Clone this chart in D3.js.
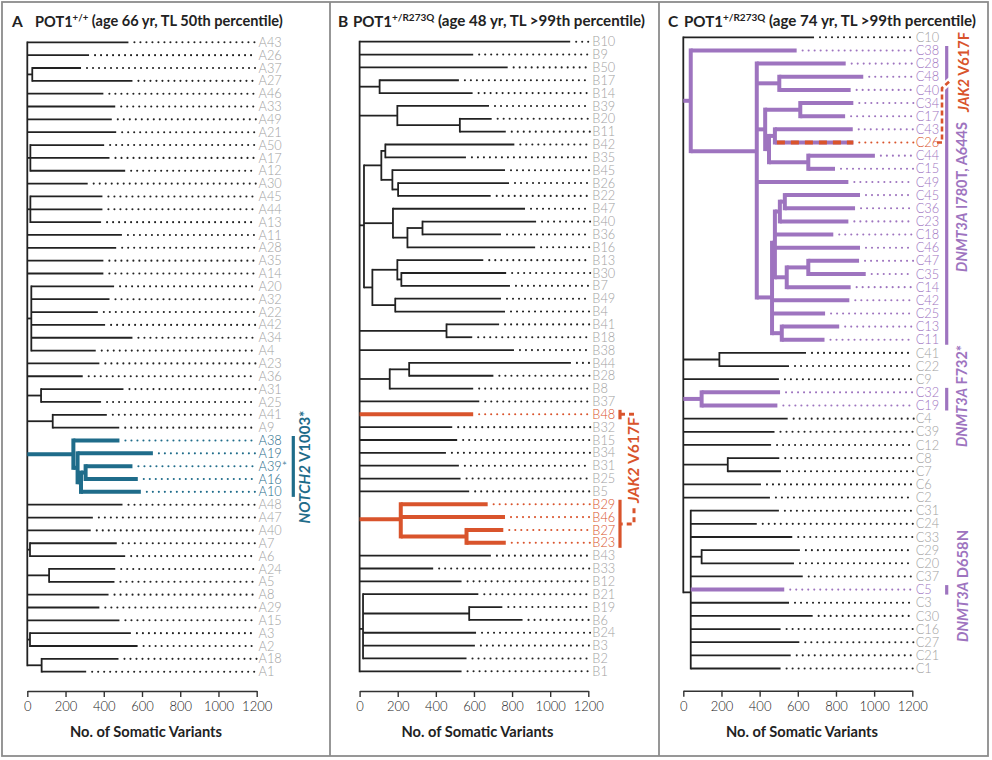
<!DOCTYPE html>
<html><head><meta charset="utf-8">
<script src="https://cdn.jsdelivr.net/npm/d3@7"></script>
<style>
body{margin:0;background:#fff;}
svg{display:block;font-family:Lato,"Open Sans",sans-serif;}
</style></head><body>
<svg id="c" width="992" height="760"></svg>
<script>
// ---------- DATA ----------
// each row: [node id / leaf label, parent, position (No. of somatic variants), clade colour]
const treeA = [
 ["A",null,0],
 ["A43","A",529],["A26","A",323],
 ["a1","A",26],["A37","a1",281],["A27","a1",550],
 ["A46","A",398],["A33","A",460],["A49","A",442],["A21","A",465],
 ["a2","A",16],["A50","a2",402],["A17","a2",430],["A12","a2",512],
 ["A30","A",316],
 ["a3","A",16],["A45","a3",393],["A44","a3",393],["A13","a3",386],
 ["A11","A",495],["A28","A",465],["A35","A",398],["A14","A",398],
 ["a4","A",21],["A20","a4",454],["A32","a4",430],["A22","a4",369],["A42","a4",407],["A34","a4",550],["A4","a4",358],
 ["A23","A",377],["A36","A",290],
 ["a5","A",72],["A31","a5",503],["A25","a5",386],
 ["a6","A",133],["A41","a6",416],["A9","a6",481],
 ["t1","A",241,"teal"],["A38","t1",482,"teal"],
 ["t2","t1",263,"teal"],["A19","t2",657,"teal"],
 ["t3","t2",281,"teal"],["t4","t3",305,"teal"],["A39*","t4",550,"teal"],["A16","t4",578,"teal"],["A10","t3",594,"teal"],
 ["A48","A",498],["A47","A",343],["A40","A",332],
 ["a7","A",14],["A7","a7",468],["A6","a7",512],
 ["a8","A",114],["A24","a8",460],["A5","a8",456],
 ["A8","A",425],["A29","A",377],["A15","A",482],
 ["a9","A",14],["A3","a9",542],["A2","a9",577],
 ["a10","A",75],["A18","a10",477],["A1","a10",308]
];
const treeB = [
 ["B",null,0],
 ["B10","B",1105],["B9","B",596],["B50","B",777],
 ["b1","B",105],["B17","b1",521],["B14","b1",593],
 ["b2","B",198],["B39","b2",679],["b3","b2",526],["B20","b3",693],["B11","b3",767],
 ["g8","B",23],
 ["g4","g8",114],["g1","g4",135],["B42","g1",812],["B35","g1",558],
 ["g2","g4",172],["B45","g2",763],["g3","g2",202],["B26","g3",784],["B22","g3",688],
 ["g5","g8",175],["B47","g5",868],["g6","g5",251],["g7","g6",330],["B40","g7",926],["B36","g7",742],["B16","g6",921],
 ["g9","g8",67],["g11","g9",198],["B13","g11",649],["g13","g11",219],["B30","g13",769],["B7","g13",789],
 ["g12","g9",187],["B49","g12",742],["B4","g12",763],
 ["b4","B",456],["B41","b4",732],["B18","b4",591],
 ["B38","B",810],
 ["b5","B",158],["b6","b5",260],["B44","b6",1109],["B28","b6",702],["B8","b5",596],
 ["B37","B",628],
 ["B48","B",596,"red"],
 ["B32","B",486],["B15","B",512],["B34","B",453],["B31","B",521],["B25","B",530],["B5","B",575],
 ["r1","B",216,"red"],["B29","r1",672,"red"],["B46","r1",763,"red"],
 ["r2","r1",561,"red"],["B27","r2",754,"red"],["B23","r2",767,"red"],
 ["B43","B",689],["B33","B",386],["B12","B",535],
 ["b7","B",18],["B21","b7",623],["b8","b7",575],["B19","b8",749],["B6","b8",855],
 ["B24","b7",611],["B3","b7",605],["B2","b7",561],
 ["B1","B",535]
];
const treeC = [
 ["C",null,0],
 ["C10","C",685],
 ["p0","C",39,"purple"],["C38","p0",594,"purple"],
 ["p1","p0",385,"purple"],["C28","p1",851,"purple"],
 ["q1","p1",503,"purple"],["C48","q1",943,"purple"],["C40","q1",877,"purple"],
 ["q2","p1",429,"purple"],["q3","q2",613,"purple"],["C34","q3",891,"purple"],["C17","q3",848,"purple"],
 ["q4","q2",449,"purple"],["q5","q4",480,"purple"],["C43","q5",888,"purple"],["C26","q5",891,"jak"],
 ["q6","q4",655,"purple"],["C44","q6",1004,"purple"],["C15","q6",795,"purple"],
 ["C49","p1",865,"purple"],
 ["p3","p1",465,"purple"],["p4","p3",480,"purple"],
 ["r1","p4",506,"purple"],["r1a","r1",532,"purple"],["C45","r1a",926,"purple"],["C36","r1a",900,"purple"],["C23","r1",865,"purple"],
 ["C18","p4",786,"purple"],["C46","p4",926,"purple"],
 ["r2","p4",542,"purple"],["r2a","r2",655,"purple"],["C47","r2a",921,"purple"],["C35","r2a",956,"purple"],["C14","r2",877,"purple"],
 ["C42","p3",870,"purple"],["C25","p3",743,"purple"],
 ["p5","p3",516,"purple"],["C13","p5",817,"purple"],["C11","p5",740,"purple"],
 ["c1","C",189],["C41","c1",643],["C22","c1",554],
 ["C9","C",501],
 ["c2","C",96,"purple"],["C32","c2",507,"purple"],["C19","c2",493,"purple"],
 ["C4","C",547],["C39","C",478],["C12","C",460],
 ["c3","C",233],["C8","c3",503],["C7","c3",512],
 ["C6","C",407],["C2","C",454],
 ["cb","C",39],["C31","cb",501],["C24","cb",385],["C33","cb",571],
 ["c4","cb",96],["C29","c4",611],["C20","c4",580],
 ["C37","cb",626],["C5","cb",529,"purple"],["C3","cb",554],["C30","cb",678],
 ["C16","cb",510],["C27","cb",608],["C21","cb",563],["C1","cb",510]
];
const tickValues = [0,200,400,600,800,1000,1200];
const panelLetters = ["A","B","C"];
const genotypes = [["POT1","+/+"],["POT1","+/R273Q"],["POT1","+/R273Q"]];
const subtitles = [" (age 66 yr, TL 50th percentile)"," (age 48 yr, TL >99th percentile)"," (age 74 yr, TL >99th percentile)"];
const axisTitle = "No. of Somatic Variants";
// annotations: [panel, gene (italic), variant, first leaf, last leaf, colour]
const annotations = [
 [0,"NOTCH2"," V1003*","A38","A10","teal"],
 [1,"JAK2"," V617F","B48","B48","red"],
 [1,"JAK2"," V617F","B29","B23","red"],
 [2,"DNMT3A"," I780T, A644S","C38","C11","purple"],
 [2,"JAK2"," V617F","C26","C26","red"],
 [2,"DNMT3A"," F732*","C32","C19","purple"],
 [2,"DNMT3A"," D658N","C5","C5","purple"]
];

// ---------- STYLE / LAYOUT ----------
const COL = {teal:"#1f6c8a", red:"#d9542c", purple:"#9e74bf", jak:"#9e74bf"};
const LABCOL = {teal:"#1f6c8a", red:"#d9542c", purple:"#9e74bf", jak:"#d9542c"};
const DOTCOL = {teal:"#1f6c8a", red:"#d9542c", purple:"#9e74bf", jak:"#d9542c"};
const GRAY = "#a2a2a2", INK = "#222";
const panels = [
 {tree:treeA, x0:27.3, x1:256.7, top:42.3, bottom:671.7, labelX:258.5, axisY:691, letterX:12, textX:35, titleW:248, axisMid:146},
 {tree:treeB, x0:359.6, x1:588.3, top:41.7, bottom:671.3, labelX:592.3, axisY:691, letterX:338, textX:353, titleW:292, axisMid:477.5},
 {tree:treeC, x0:683.3, x1:912.3, top:37.3, bottom:668.5, labelX:915.7, axisY:690.7, letterX:668, textX:684, titleW:292, axisMid:802}
];

const svg = d3.select("#c");
svg.append("rect").attr("x",2).attr("y",2).attr("width",986).attr("height",754)
  .attr("fill","none").attr("stroke","#8c8c8c").attr("stroke-width",1.8);
[330,659].forEach(x=>svg.append("line").attr("x1",x).attr("x2",x).attr("y1",2).attr("y2",756)
  .attr("stroke","#8c8c8c").attr("stroke-width",1.8));

function build(rows){
  const nodes = new Map();
  rows.forEach(([id,parent,v,col])=>nodes.set(id,{id,parent,v,col,children:[]}));
  let root;
  rows.forEach(([id,parent])=>{const n=nodes.get(id); if(parent==null) root=n; else nodes.get(parent).children.push(n);});
  const leaves=[];
  (function walk(n){ if(!n.children.length) leaves.push(n); n.children.forEach(walk); })(root);
  return {root,leaves,nodes:[...nodes.values()],map:nodes};
}

function fit(sel, target){
  const len = sel.node().getComputedTextLength();
  const fs = parseFloat(sel.attr("font-size"));
  sel.attr("font-size", fs*target/len);
}

const built = [];
panels.forEach((P,pi)=>{
  const T = build(P.tree);
  built.push(T);
  const x = d3.scaleLinear().domain([0,1200]).range([P.x0,P.x1]);
  const yRow = d3.scaleLinear().domain([0,T.leaves.length-1]).range([P.top,P.bottom]);
  T.leaves.forEach((l,i)=>l.y=yRow(i));
  (function post(n){ if(n.children.length){ n.children.forEach(post); n.y=d3.mean(n.children,c=>c.y);} })(T.root);
  P.x=x;
  const g = svg.append("g");
  const gBlack = g.append("g"), gCol = g.append("g"), gDots = g.append("g"), gLab = g.append("g");
  T.nodes.forEach(n=>{
    const layer = n.col ? gCol : gBlack;
    const stroke = n.col ? COL[n.col] : INK;
    const w = n.col ? 4 : 1.8;
    if(n.parent!=null){
      const p = T.map.get(n.parent);
      layer.append("line").attr("x1",x(p.v)).attr("x2",x(n.v)).attr("y1",n.y).attr("y2",n.y)
        .attr("stroke",stroke).attr("stroke-width",w);
      if(n.col==="jak"){
        layer.append("line").attr("x1",x(p.v)+2).attr("x2",x(n.v)).attr("y1",n.y).attr("y2",n.y)
          .attr("stroke",COL.red).attr("stroke-width",w).attr("stroke-dasharray","8 6");
      }
    }
    if(n.children.length){
      const ys = n.children.map(c=>c.y);
      layer.append("line").attr("x1",x(n.v)).attr("x2",x(n.v)).attr("y1",d3.min(ys)).attr("y2",d3.max(ys))
        .attr("stroke",stroke).attr("stroke-width",w).attr("stroke-linecap","square");
    }
  });
  T.leaves.forEach(l=>{
    const xs = x(l.v)+6, xe = P.labelX-2;
    if(xe>xs) gDots.append("line").attr("x1",xs).attr("x2",xe).attr("y1",l.y).attr("y2",l.y)
      .attr("stroke", l.col?DOTCOL[l.col]:"#222").attr("stroke-width",2.1)
      .attr("stroke-linecap","round").attr("stroke-dasharray","0 6");
    gLab.append("text").attr("x",P.labelX).attr("y",l.y).attr("dy","0.36em")
      .attr("font-size",12.8).attr("font-weight",300)
      .attr("fill", l.col?LABCOL[l.col]:GRAY).text(l.id);
  });
  // axis
  const ax = svg.append("g").attr("transform",`translate(0,${P.axisY})`)
    .call(d3.axisBottom(x).tickValues(tickValues).tickFormat(d3.format("d")).tickSize(6).tickSizeOuter(0).tickPadding(5));
  ax.select(".domain").attr("stroke","#333").attr("stroke-width",1.4);
  ax.selectAll(".tick line").attr("stroke","#333").attr("stroke-width",1.4);
  ax.selectAll(".tick text").attr("font-size",13).attr("font-weight",300).attr("fill",INK)
    .attr("font-family","Lato, sans-serif");
  const at = svg.append("text").attr("x",P.axisMid).attr("y",737).attr("text-anchor","middle")
    .attr("font-size",14).attr("font-weight",700).attr("fill",INK).text(axisTitle);
  fit(at,152);
  // title
  svg.append("text").attr("x",P.letterX).attr("y",26.5).attr("font-size",15.5).attr("font-weight",700)
    .attr("fill",INK).text(panelLetters[pi]);
  const tt = svg.append("text").attr("x",P.textX).attr("y",26.5).attr("font-size",14).attr("font-weight",700).attr("fill",INK);
  tt.append("tspan").text(genotypes[pi][0]);
  tt.append("tspan").attr("font-size","0.66em").attr("dy","-0.55em").text(genotypes[pi][1]);
  tt.append("tspan").attr("dy","0.36em").text(subtitles[pi]);
  fit(tt,P.titleW);
});

// ---------- annotations ----------
const barX = [293.3, 620, 946.7];
function rowY(pi,id){ return built[pi].map.get(id).y; }
function rotText(cx,cy,gene,variant,col,target,bg){
  const g = svg.append("g").attr("transform",`translate(${cx},${cy}) rotate(-90)`);
  const t = g.append("text").attr("text-anchor","middle").attr("dy","0.36em")
    .attr("font-size",14).attr("font-weight",700).attr("fill",COL[col]);
  t.append("tspan").attr("font-style","italic").text(gene);
  t.append("tspan").text(variant);
  fit(t,target);
  if(bg){ const b=t.node().getBBox(); g.insert("rect","text").attr("x",b.x-1).attr("y",b.y).attr("width",b.width+2).attr("height",b.height).attr("fill","#fff"); }
}
annotations.forEach(([pi,gene,variant,a,b,col])=>{
  if(pi===2 && a==="C26") return;
  const y1 = rowY(pi,a)-4.5, y2 = rowY(pi,b)+5;
  svg.append("line").attr("x1",barX[pi]).attr("x2",barX[pi]).attr("y1",y1).attr("y2",y2)
    .attr("stroke",COL[col]).attr("stroke-width",3.2);
});
// B: dashed link between the two JAK2 clades
{
  const yA = rowY(1,"B48"), yB = d3.mean([rowY(1,"B29"),rowY(1,"B23")])+0.5;
  svg.append("path").attr("d",`M620,${yA}H634V${yB}H620`).attr("fill","none")
    .attr("stroke",COL.red).attr("stroke-width",3).attr("stroke-dasharray","5 4");
  rotText(633,460,"JAK2"," V617F","red",86,true);
}
// C: JAK2 link from C26
{
  const y = rowY(2,"C26");
  svg.append("line").attr("x1",942).attr("y1",88).attr("x2",951).attr("y2",80)
    .attr("stroke","#fff").attr("stroke-width",7);
  svg.append("path").attr("d",`M937,${y}H942V88L951,80`).attr("fill","none")
    .attr("stroke",COL.red).attr("stroke-width",2.6).attr("stroke-dasharray","5 3");
}
rotText(305,467,"NOTCH2"," V1003*","teal",113,false);
rotText(964,72,"JAK2"," V617F","red",80,false);
rotText(962,197,"DNMT3A"," I780T, A644S","purple",150,false);
rotText(962,396,"DNMT3A"," F732*","purple",102,false);
rotText(962.5,586,"DNMT3A"," D658N","purple",112,false);
</script></body></html>
